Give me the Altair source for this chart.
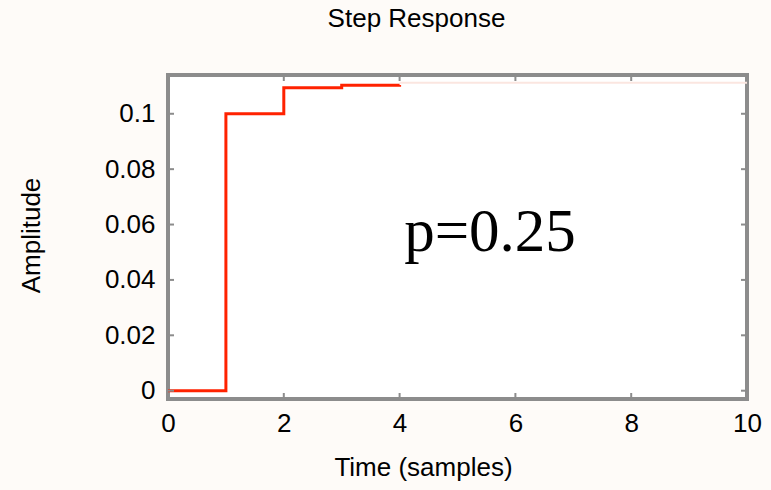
import altair as alt
import pandas as pd

# Step response samples
time = [0, 1, 2, 3, 4]
amplitude = [0.0, 0.1, 0.1094, 0.1103, 0.1104]

# faint tail near the top edge
tail_time = [4, 10]
tail_amp = [0.1112, 0.1112]

x_ticks = [0, 2, 4, 6, 8, 10]
y_ticks = [0, 0.02, 0.04, 0.06, 0.08, 0.1]

annotation = "p=0.25"

W, H = 579, 324
FRAME = "#8c8c8c"

df = pd.DataFrame({"t": time, "a": amplitude})
tail_df = pd.DataFrame({"t": tail_time, "a": tail_amp})
xt = pd.DataFrame({"v": x_ticks})
yt = pd.DataFrame({"v": y_ticks})

xs = alt.Scale(domain=[0, 10], nice=False, zero=False)
ys = alt.Scale(domain=[-0.003, 0.114], nice=False, zero=False)

x_axis = alt.Axis(
    values=x_ticks, format="d", ticks=False, domain=False, grid=False,
    labelFontSize=26, labelPadding=11, labelColor="#000000",
    labelFont="Liberation Sans",
    title="Time (samples)", titleFontSize=26, titleFontWeight="normal",
    titleFont="Liberation Sans", titleColor="#000000",
    titleX=255, titleY=76, titleBaseline="alphabetic", titleAlign="center",
    labelFlush=False,
)
y_axis = alt.Axis(
    values=y_ticks, format="~g", ticks=False, domain=False, grid=False,
    labelFontSize=26, labelPadding=13, labelColor="#000000",
    labelFont="Liberation Sans",
    title="Amplitude", titleFontSize=26, titleFontWeight="normal",
    titleFont="Liberation Sans", titleColor="#000000",
    titleX=-129, titleY=160, titleAngle=270, titleBaseline="alphabetic",
    titleAlign="center", labelFlush=False,
)

base_line = alt.Chart(df).mark_line(
    interpolate="step-after", color="#ff2200", strokeWidth=3
).encode(
    x=alt.X("t:Q", scale=xs, axis=x_axis),
    y=alt.Y("a:Q", scale=ys, axis=y_axis),
)

tail = alt.Chart(tail_df).mark_line(color="#fbe6e0", strokeWidth=2).encode(
    x=alt.X("t:Q", scale=xs),
    y=alt.Y("a:Q", scale=ys),
)

tick_style = dict(color=FRAME, strokeWidth=2)

x_bottom = alt.Chart(xt).mark_rule(**tick_style).encode(
    x=alt.X("v:Q", scale=xs), y=alt.value(H), y2=alt.value(H - 6)
)
x_top = alt.Chart(xt).mark_rule(**tick_style).encode(
    x=alt.X("v:Q", scale=xs), y=alt.value(0), y2=alt.value(6)
)
y_left = alt.Chart(yt).mark_rule(**tick_style).encode(
    y=alt.Y("v:Q", scale=ys), x=alt.value(0), x2=alt.value(6)
)
y_right = alt.Chart(yt).mark_rule(**tick_style).encode(
    y=alt.Y("v:Q", scale=ys), x=alt.value(W - 6), x2=alt.value(W)
)

label = alt.Chart(pd.DataFrame({"s": [annotation]})).mark_text(
    font="Liberation Serif", fontSize=61, color="#000000",
    align="center", baseline="alphabetic",
).encode(x=alt.value(322), y=alt.value(176), text="s:N")

chart = alt.layer(
    tail, base_line, x_bottom, x_top, y_left, y_right, label
).properties(
    width=W, height=H,
    title=alt.TitleParams(
        "Step Response", fontSize=26, fontWeight="normal",
        font="Liberation Sans", color="#000000",
        anchor="middle", dx=-41, offset=42,
    ),
    autosize=alt.AutoSizeParams(type="none"),
    padding={"left": 168, "top": 75, "right": 24, "bottom": 91},
    background="#fefbf8",
).configure_view(
    stroke=FRAME, strokeWidth=4, fill="#ffffff"
)

chart.save("out.html", embed_options={"renderer": "svg", "actions": False})
